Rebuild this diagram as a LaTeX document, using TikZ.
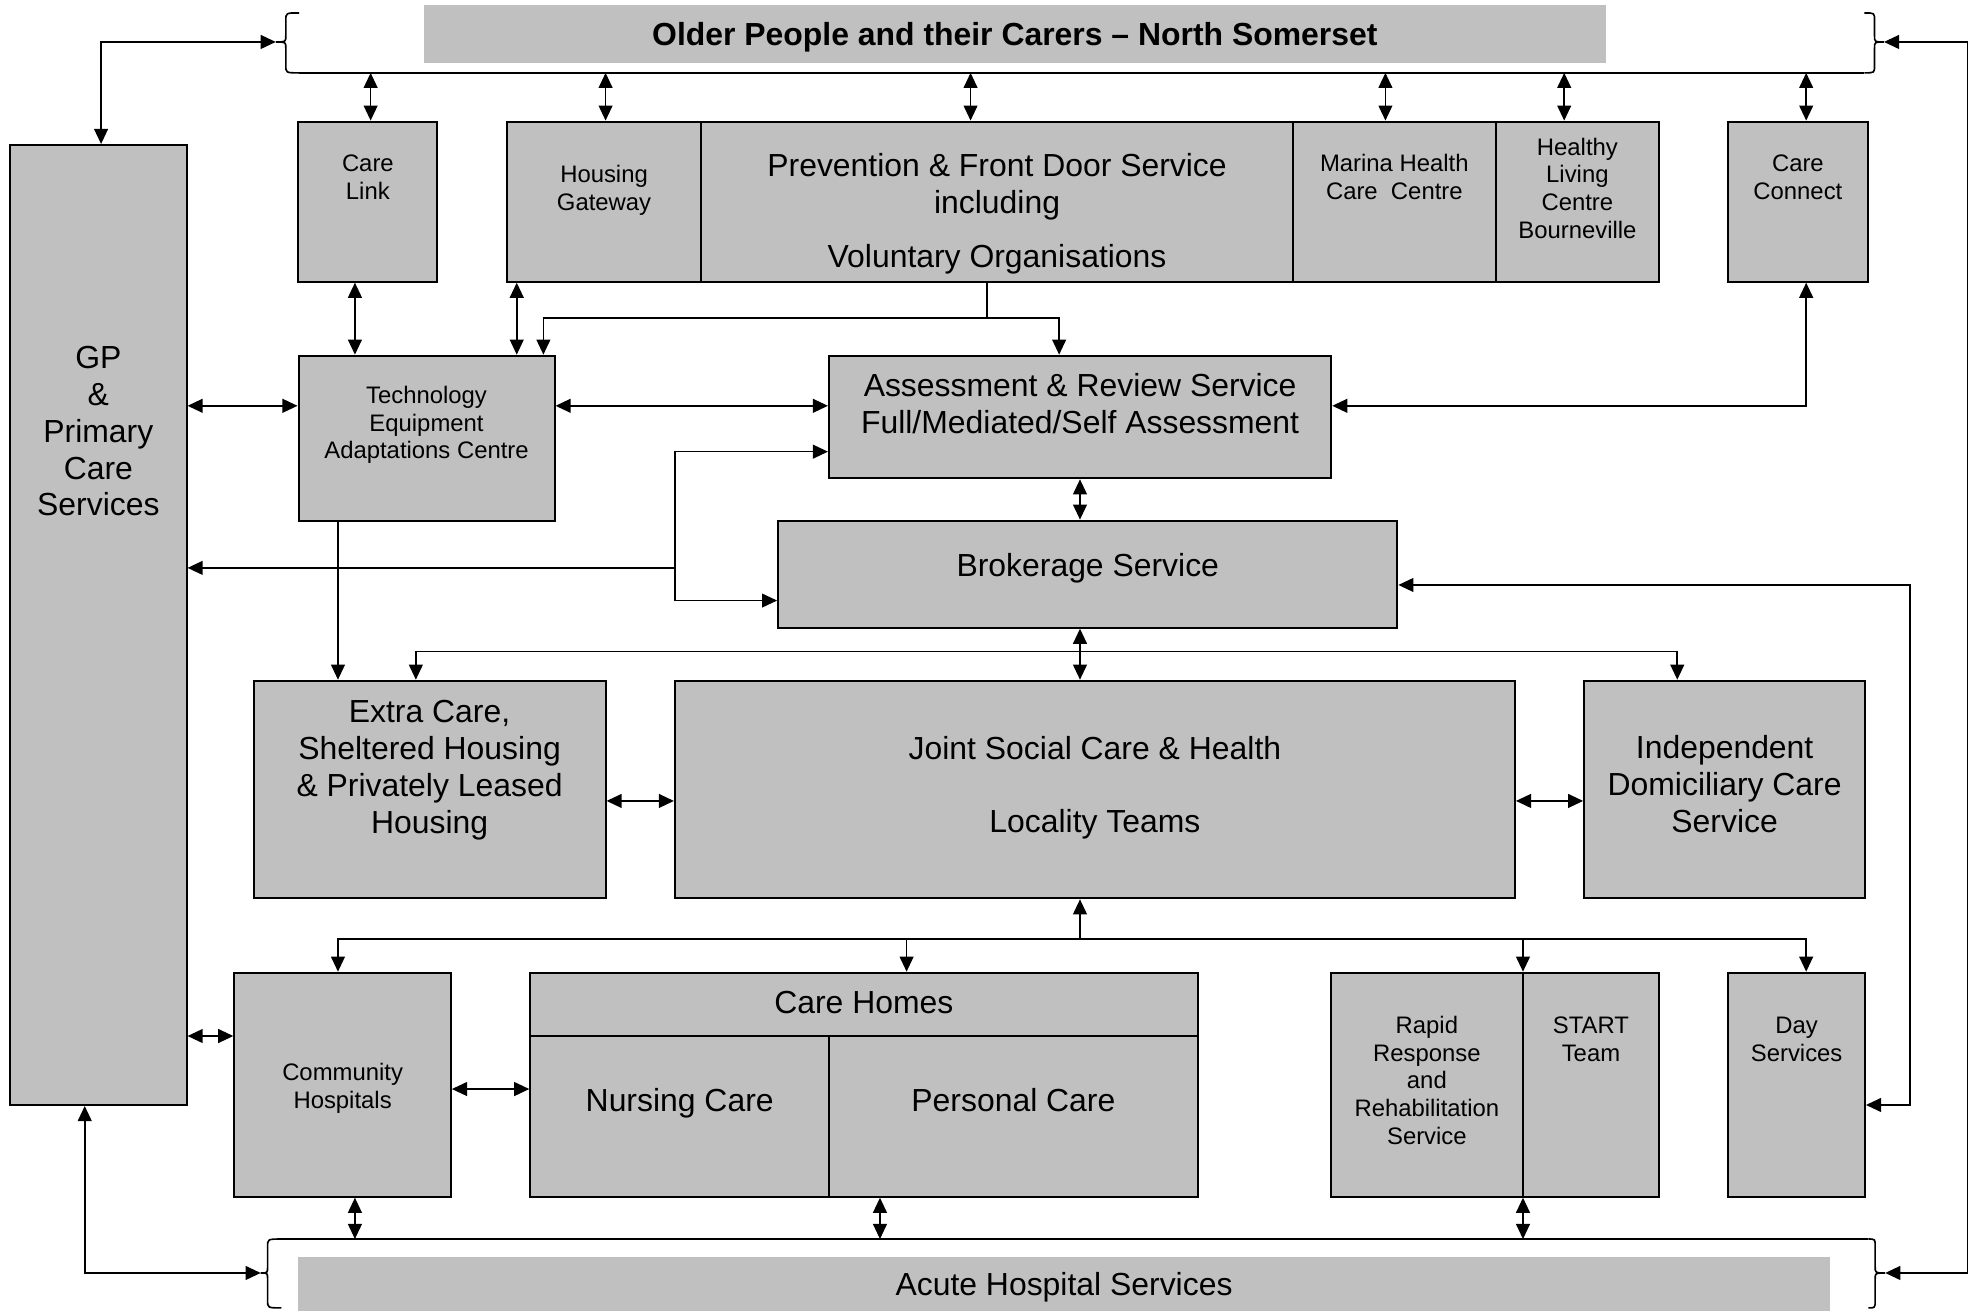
\documentclass[tikz,border=0pt]{standalone}
\usepackage{fontspec}
\setmainfont{Liberation Sans}
\usetikzlibrary{arrows.meta}
\definecolor{boxgray}{HTML}{C0C0C0}
\tikzset{
  box/.style={draw=black, fill=boxgray, line width=1.6pt, inner sep=0pt},
  band/.style={fill=boxgray, inner sep=0pt},
  bigt/.style={anchor=north, inner sep=0pt, align=center, font=\fontsize{25.4}{29.3}\selectfont},
  smallt/.style={anchor=north, inner sep=0pt, align=center, font=\fontsize{19}{22}\selectfont},
  con/.style={line width=1.3pt},
  arr/.style={con, -{Triangle[length=12pt,width=11pt]}},
  dbl/.style={con, {Triangle[length=12pt,width=11pt]}-{Triangle[length=12pt,width=11pt]}},
}
\newcommand\bx[5]{\node[box, minimum width={(#4-#2)*1pt}, minimum height={(#5-#3)*1pt}] (#1) at ({(#2+#4)/2},{(#3+#5)/2}) {};}
\newcommand\btx[4]{\node[bigt] (#1) at (#2,{#3-20.51}) {\strut #4\strut};}
\newcommand\stx[4]{\node[smallt] (#1) at (#2,{#3-15.4}) {\strut #4\strut};}
\newcommand\bracepath[6]{%
  \draw[con] (#1,#4) .. controls (#2,#4) .. (#2,{#4+6}) -- (#2,{#5-5})
    .. controls (#2,#5) .. (#3,#5) .. controls (#2,#5) .. (#2,{#5+5})
    -- (#2,{#6-6}) .. controls (#2,#6) .. (#1,#6);}
\begin{document}
\begin{tikzpicture}[x=1pt,y=-1pt]
\useasboundingbox (0,0) rectangle (1568,1042.7);
% bands
\node[band, minimum width=940.5pt, minimum height=45.9pt] (title) at (807.75,26.95) {};
\node[band, minimum width=1219.3pt, minimum height=44pt] (acute) at (846.85,1022.5) {};
% braces
\bracepath{238}{227.5}{219.5}{10.3}{33.4}{58}
\bracepath{1484}{1492}{1499.5}{10.3}{33.4}{58}
\bracepath{224}{213}{207.5}{986.2}{1013.2}{1041}
\bracepath{1487}{1492.5}{1500.5}{986.2}{1013.2}{1041}
\draw[con] (238,58) -- (1484,58);
\draw[con] (224,986.2) -- (1487,986.2);
\coordinate (tl) at (219.5,33.4);
\coordinate (tr) at (1499.5,33.4);
\coordinate (bl) at (207.5,1013.2);
\coordinate (brc) at (1500.5,1013.2);
% boxes
\bx{gp}{8}{115.4}{148.5}{879.5}
\bx{cl}{237.3}{96.8}{348.2}{224.2}
\bx{hg}{403.3}{96.8}{558.2}{224.2}
\bx{pf}{558.2}{96.8}{1029}{224.2}
\bx{mh}{1029}{96.8}{1190.5}{224.2}
\bx{hl}{1190.5}{96.8}{1320.4}{224.2}
\bx{cc}{1375.5}{96.8}{1486.4}{224.2}
\bx{te}{237.6}{283.1}{441.4}{414.4}
\bx{as}{659.8}{283.1}{1059.6}{380.7}
\bx{br}{619.3}{414.4}{1112.2}{499.6}
\bx{ec}{201.8}{541.8}{482}{715}
\bx{js}{537.2}{541.8}{1205.8}{715}
\bx{id}{1260.9}{541.8}{1484.4}{715}
\bx{ch}{186.5}{774.2}{358.9}{952.5}
\bx{hmh}{422.1}{774.2}{953.3}{824.3}
\bx{nc}{422.1}{824.3}{660.2}{952.5}
\bx{pc}{660.2}{824.3}{953.3}{952.5}
\bx{rr}{1059.2}{774.2}{1212.2}{952.5}
\bx{st}{1212.2}{774.2}{1320.4}{952.5}
\bx{ds}{1375.5}{774.2}{1484.4}{952.5}
% texts
\node[bigt, font=\fontsize{25.4}{29.3}\selectfont\bfseries] (titlet) at (807.75,{35.8-20.51}) {\strut Older People and their Carers \textendash{} North Somerset\strut};
\btx{gpt}{78.3}{293.2}{GP\\\&\\Primary\\Care\\Services}
\stx{clt}{292.8}{136.6}{Care\\Link}
\stx{hgt}{480.8}{145.4}{Housing\\Gateway}
\btx{pft}{793.6}{140.6}{Prevention \& Front Door Service\\including\\[13.3pt]Voluntary Organisations}
\stx{mht}{1109.8}{136.6}{Marina Health\\Care\ \ Centre}
\stx{hlt}{1255.5}{123.4}{Healthy\\Living\\Centre\\Bourneville}
\stx{cct}{1431}{136.6}{Care\\Connect}
\stx{tet}{339.5}{321}{Technology\\Equipment\\Adaptations Centre}
\btx{ast}{859.7}{315.2}{Assessment \& Review Service\\Full/Mediated/Self Assessment}
\btx{brt}{865.8}{459}{Brokerage Service}
\btx{ect}{341.9}{575}{Extra Care,\\Sheltered Housing\\\& Privately Leased\\Housing}
\btx{jst}{871.5}{604}{Joint Social Care \& Health\\[29.3pt]Locality Teams}
\btx{idt}{1372.7}{603.6}{Independent\\Domiciliary Care\\Service}
\stx{cht}{272.7}{860}{Community\\Hospitals}
\btx{hmt}{687.6}{806.5}{Care Homes}
\btx{nct}{541}{884.8}{Nursing Care}
\btx{pct}{806.6}{884.8}{Personal Care}
\stx{rrt}{1135.7}{822.4}{Rapid\\Response\\and\\Rehabilitation\\Service}
\stx{stt}{1266.3}{822.4}{START\\Team}
\stx{dst}{1430}{822.4}{Day\\Services}
\btx{act}{846.9}{1030.7}{Acute Hospital Services}
% outer loops
\draw[dbl] (tl) -| ([xshift=2.2pt]gp.north);
\draw[dbl] ([xshift=-10.8pt]gp.south) |- (bl);
\draw[dbl] (tr) -- (1566,33.4) -- (1566,1013.2) -- (brc);
% top bus
\coordinate (t1) at (295,58);    \draw[dbl] (t1) -- (t1 |- cl.north);
\coordinate (t2) at (482,58);    \draw[dbl] (t2) -- (t2 |- hg.north);
\coordinate (t3) at (772.5,58);  \draw[dbl] (t3) -- (t3 |- pf.north);
\coordinate (t4) at (1102.7,58); \draw[dbl] (t4) -- (t4 |- mh.north);
\coordinate (t5) at (1245,58);   \draw[dbl] (t5) -- (t5 |- hl.north);
\coordinate (t6) at (1437.6,58); \draw[dbl] (t6) -- (t6 |- cc.north);
% row 1 to technology
\coordinate (v1) at (282.5,0); \draw[dbl] (v1 |- cl.south) -- (v1 |- te.north);
\coordinate (v2) at (411.3,0); \draw[dbl] (v2 |- hg.south) -- (v2 |- te.north);
\coordinate (j1) at (785.6,253);
\coordinate (v3) at (432.5,253);
\coordinate (v4) at (843,253);
\draw[con] (j1 |- pf.south) -- (j1);
\draw[arr] (j1) -- (v3) -- (v3 |- te.north);
\draw[arr] (j1) -- (v4) -- (v4 |- as.north);
% level 323
\coordinate (h1) at (0,323);
\draw[dbl] (gp.east |- h1) -- (te.west |- h1);
\draw[dbl] (te.east |- h1) -- (as.west |- h1);
\coordinate (v5) at (1437.6,0);
\draw[dbl] (v5 |- cc.south) |- (as.east |- h1);
% brokerage junction
\coordinate (k1) at (537,359.5);
\coordinate (k2) at (537,452);
\coordinate (k3) at (537,478);
\draw[dbl] (k1 -| as.west) -- (k1) -- (k3) -- (k3 -| br.west);
\draw[arr] (k2) -- (k2 -| gp.east);
% technology to extra care
\coordinate (v6) at (269,0); \draw[arr] (v6 |- te.south) -- (v6 |- ec.north);
% assessment - brokerage - joint
\coordinate (v7) at (859.6,0);
\draw[dbl] (v7 |- as.south) -- (v7 |- br.north);
\draw[dbl] (v7 |- br.south) -- (v7 |- js.north);
\coordinate (m1) at (331,518.5);
\coordinate (m2) at (1335,518.5);
\draw[dbl] (m1 |- ec.north) -- (m1) -- (m2) -- (m2 |- id.north);
% brokerage to day services
\coordinate (q1) at (1520,465.6);
\coordinate (q2) at (1520,879.5);
\draw[dbl] (q1 -| br.east) -- (q1) -- (q2) -- (q2 -| ds.east);
% middle row
\coordinate (h2) at (0,637.5);
\draw[dbl] (ec.east |- h2) -- (js.west |- h2);
\draw[dbl] (js.east |- h2) -- (id.west |- h2);
% bus under joint
\coordinate (n0) at (859.6,747.5);
\draw[arr] (n0) -- (n0 |- js.south);
\coordinate (n1) at (269,747.5);
\coordinate (n2) at (1437.6,747.5);
\draw[dbl] (n1 |- ch.north) -- (n1) -- (n2) -- (n2 |- ds.north);
\coordinate (n3) at (721.6,747.5); \draw[arr] (n3) -- (n3 |- hmh.north);
\coordinate (n4) at (1212.2,747.5); \draw[arr] (n4) -- (n4 |- rr.north);
% bottom row
\coordinate (h3) at (0,824.6);
\draw[dbl] (gp.east |- h3) -- (ch.west |- h3);
\coordinate (h4) at (0,866.8);
\draw[dbl] (ch.east |- h4) -- (nc.west |- h4);
\coordinate (p1) at (282.5,986.2); \draw[dbl] (p1 |- ch.south) -- (p1);
\coordinate (p2) at (700.4,986.2); \draw[dbl] (p2 |- pc.south) -- (p2);
\coordinate (p3) at (1212.2,986.2); \draw[dbl] (p3 |- rr.south) -- (p3);
\end{tikzpicture}
\end{document}
